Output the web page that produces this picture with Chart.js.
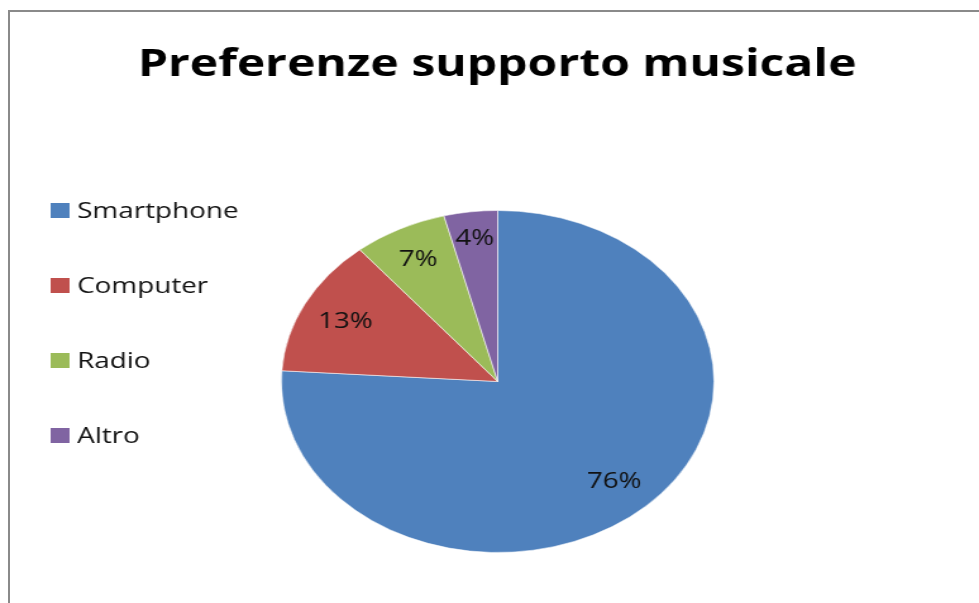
<!DOCTYPE html>
<html>
<head>
<meta charset="utf-8">
<script src="https://cdn.jsdelivr.net/npm/chart.js@4/dist/chart.umd.min.js"></script>
<style>
  html, body { margin: 0; padding: 0; background: #fff; overflow: hidden; }
  #wrap { position: relative; width: 979px; height: 603px; }
  #frame { position: absolute; left: 8px; top: 10px; right: 0; bottom: 0;
           border-left: 2px solid #8a8a8a; border-top: 2px solid #8a8a8a; pointer-events: none; }
  #c { position: absolute; left: 0; top: 0; }
</style>
</head>
<body>
<div id="wrap">
  <canvas id="c" width="774" height="603" style="width:979px;height:603px"></canvas>
  <div id="frame"></div>
</div>
<script>
// Chart content
const chartTitle = 'Preferenze supporto musicale';
const categories = ['Smartphone', 'Computer', 'Radio', 'Altro'];
const shares = [76, 13, 7, 4];
const sliceColors = ['#4F81BD', '#C0504D', '#9BBB59', '#8064A2'];

// Percentage labels inside the slices, placed along each slice's mid angle
const sliceLabels = {
  id: 'sliceLabels',
  afterDatasetsDraw(chart, args, opts) {
    const ctx = chart.ctx;
    const meta = chart.getDatasetMeta(0);
    ctx.save();
    ctx.font = opts.font;
    ctx.fillStyle = opts.color;
    ctx.textAlign = 'center';
    ctx.textBaseline = 'alphabetic';
    meta.data.forEach((arc, i) => {
      const p = arc.getProps(['x', 'y', 'startAngle', 'endAngle', 'outerRadius'], true);
      const mid = (p.startAngle + p.endAngle) / 2;
      const r = p.outerRadius * opts.radial[i];
      const x = p.x + Math.cos(mid) * r;
      const y = p.y + Math.sin(mid) * r;
      ctx.fillText(shares[i] + '%', x, y + opts.capHalf);
    });
    ctx.restore();
  }
};

// Title and the vertical legend on the left
const headerAndLegend = {
  id: 'headerAndLegend',
  afterDraw(chart, args, opts) {
    const ctx = chart.ctx;
    const colors = chart.data.datasets[0].backgroundColor;
    ctx.save();
    ctx.fillStyle = '#000';
    ctx.textAlign = 'center';
    ctx.textBaseline = 'alphabetic';
    ctx.font = opts.titleFont;
    ctx.fillText(chartTitle, opts.titleX, opts.titleBaseline);

    ctx.textAlign = 'left';
    ctx.font = opts.legendFont;
    chart.data.labels.forEach((label, i) => {
      const base = opts.legendTop + i * opts.legendStep;
      ctx.fillStyle = colors[i];
      ctx.fillRect(opts.boxX, base - opts.boxSize, opts.boxSize, opts.boxSize);
      ctx.fillStyle = '#111';
      ctx.fillText(label, opts.textX, base);
    });
    ctx.restore();
  }
};

new Chart(document.getElementById('c'), {
  type: 'pie',
  data: {
    labels: categories,
    datasets: [{
      data: shares,
      backgroundColor: sliceColors,
      borderColor: 'rgba(255,255,255,0.55)',
      borderWidth: 1
    }]
  },
  options: {
    responsive: false,
    animation: false,
    devicePixelRatio: 1,
    layout: { padding: { left: 222, top: 210, right: 209, bottom: 50 } },
    plugins: {
      legend: { display: false },
      title: { display: false },
      tooltip: { enabled: false },
      sliceLabels: {
        font: '22px "Open Sans"',
        color: '#111',
        capHalf: 8,
        radial: [0.787, 0.79, 0.81, 0.85]
      },
      headerAndLegend: {
        titleFont: 'bold 38px "Open Sans"',
        titleX: 393,
        titleBaseline: 76,
        legendFont: '22px "Open Sans"',
        legendTop: 218,
        legendStep: 75,
        boxX: 40,
        boxSize: 15,
        textX: 61
      }
    }
  },
  plugins: [sliceLabels, headerAndLegend]
});
</script>
</body>
</html>
